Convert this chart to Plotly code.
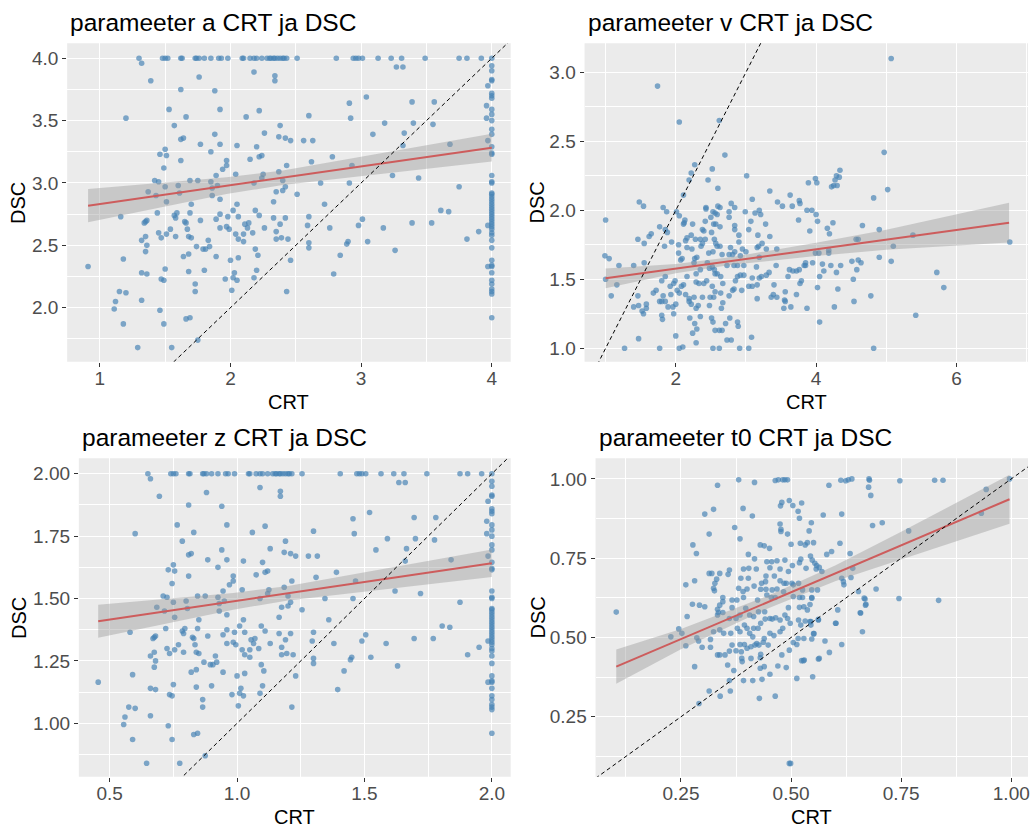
import numpy as np
import plotly.graph_objects as go

# ---------------- data: (CRT, DSC) pairs per parameter ----------------
a_points = [
    (1.30, 4.00), (1.48, 4.00), (1.50, 4.00), (1.52, 4.00), (1.62, 4.00), (1.63, 4.00), (1.73, 4.00), (1.74, 4.00),
    (1.76, 4.00), (1.80, 4.00), (1.85, 4.00), (1.91, 4.00), (1.93, 4.00), (1.98, 4.00), (2.09, 4.00), (2.10, 4.00),
    (2.15, 4.00), (2.18, 4.00), (2.20, 4.00), (2.24, 4.00), (2.28, 4.00), (2.30, 4.00), (2.31, 4.00), (2.33, 4.00),
    (2.34, 4.00), (2.36, 4.00), (2.38, 4.00), (2.40, 4.00), (2.41, 4.00), (2.43, 4.00), (2.51, 4.00), (2.81, 4.00),
    (2.94, 4.00), (2.96, 4.00), (2.98, 4.00), (3.01, 4.00), (3.13, 4.00), (3.23, 4.00), (3.31, 4.00), (3.49, 4.00),
    (3.75, 4.00), (3.81, 4.00), (3.92, 4.00), (4.00, 4.00),
    (1.32, 3.96), (1.39, 3.82), (1.76, 3.85), (2.18, 3.89), (2.34, 3.86), (2.34, 3.82), (3.27, 3.93), (3.32, 3.93),
    (1.88, 3.74), (1.62, 3.75), (3.04, 3.69), (2.91, 3.64), (3.39, 3.65), (3.56, 3.65), (1.53, 3.59), (1.92, 3.59),
    (2.22, 3.58), (1.20, 3.52), (1.66, 3.53), (2.12, 3.53), (2.60, 3.54), (2.92, 3.52), (3.18, 3.48), (3.40, 3.48),
    (3.55, 3.47), (1.57, 3.46), (2.38, 3.46), (2.26, 3.40), (3.33, 3.40), (1.88, 3.39), (3.09, 3.39), (1.62, 3.35),
    (1.64, 3.36), (2.37, 3.37), (2.42, 3.36), (2.46, 3.34), (2.56, 3.34), (2.63, 3.34), (1.77, 3.31), (1.92, 3.31),
    (2.05, 3.30), (2.20, 3.29), (3.32, 3.30), (3.68, 3.31), (1.50, 3.27), (1.85, 3.25), (1.46, 3.23), (1.51, 3.22),
    (2.22, 3.21), (2.24, 3.22), (2.78, 3.21), (2.15, 3.19), (1.62, 3.18), (1.97, 3.18), (2.62, 3.17), (1.97, 3.14),
    (2.43, 3.14), (2.93, 3.14), (1.49, 3.12), (1.94, 3.11), (2.37, 3.09), (2.04, 3.07), (1.89, 3.06), (2.25, 3.07),
    (3.24, 3.06), (3.44, 3.04), (2.24, 3.04), (1.69, 3.02), (1.75, 3.02), (1.42, 3.02), (1.45, 3.01), (1.85, 3.01),
    (2.40, 3.02), (2.18, 3.00), (2.69, 3.00), (2.91, 3.00), (1.50, 2.97), (1.60, 2.98), (1.86, 2.96), (1.90, 2.98),
    (2.42, 2.97), (3.75, 2.97), (1.37, 2.93), (2.35, 2.93), (2.40, 2.94), (1.61, 2.92), (1.43, 2.90), (1.86, 2.90),
    (2.51, 2.91), (1.92, 2.87), (1.51, 2.85), (2.33, 2.85), (1.70, 2.83), (2.05, 2.83), (2.72, 2.83), (2.02, 2.78),
    (2.19, 2.78), (3.61, 2.78), (3.67, 2.77), (1.44, 2.76), (1.59, 2.76), (1.57, 2.74), (1.69, 2.76), (1.92, 2.75),
    (2.22, 2.74), (1.16, 2.73), (1.58, 2.72), (2.06, 2.73), (2.33, 2.72), (2.42, 2.72), (2.60, 2.73), (1.98, 2.73),
    (3.01, 2.71), (1.35, 2.69), (1.36, 2.70), (1.65, 2.69), (1.77, 2.70), (1.89, 2.71), (1.34, 2.68), (1.66, 2.68),
    (2.11, 2.67), (2.14, 2.68), (2.38, 2.67), (3.39, 2.68), (3.54, 2.68), (2.98, 2.66), (2.59, 2.66), (1.97, 2.65),
    (1.92, 2.64), (1.99, 2.63), (2.13, 2.64), (2.26, 2.64), (2.76, 2.64), (3.17, 2.64), (1.54, 2.63), (1.67, 2.63),
    (2.35, 2.61), (2.17, 2.60), (3.90, 2.61), (1.45, 2.60), (2.04, 2.59), (2.10, 2.59), (1.35, 2.57), (1.51, 2.59),
    (1.58, 2.57), (1.68, 2.57), (1.47, 2.56), (1.70, 2.56), (2.06, 2.55), (2.35, 2.55), (2.39, 2.56), (2.44, 2.55),
    (3.81, 2.55), (1.32, 2.54), (1.83, 2.54), (2.10, 2.53), (2.60, 2.52), (3.05, 2.53), (2.90, 2.53), (2.89, 2.51),
    (1.36, 2.50), (1.74, 2.49), (1.84, 2.49), (2.60, 2.48), (1.79, 2.47), (1.81, 2.47), (2.19, 2.47), (3.26, 2.46),
    (1.35, 2.45), (1.68, 2.43), (2.21, 2.42), (1.64, 2.41), (1.89, 2.41), (2.84, 2.42), (2.06, 2.40), (1.18, 2.39),
    (2.00, 2.38), (2.46, 2.38), (0.91, 2.33), (1.50, 2.31), (1.80, 2.30), (2.20, 2.30), (1.68, 2.29), (1.32, 2.28),
    (2.03, 2.28), (1.36, 2.27), (2.79, 2.27), (2.02, 2.24), (2.18, 2.24), (1.47, 2.23), (1.49, 2.22), (1.96, 2.23),
    (2.05, 2.22), (1.73, 2.19), (1.15, 2.13), (1.20, 2.12), (1.73, 2.13), (2.01, 2.14), (2.43, 2.13), (1.12, 2.05),
    (1.32, 2.06), (1.11, 1.99), (1.46, 1.98), (1.66, 1.91), (1.69, 1.92), (1.18, 1.87), (1.49, 1.87), (1.75, 1.74),
    (1.29, 1.68), (1.55, 1.68),
    (3.97, 3.78), (3.96, 3.62), (3.96, 3.52), (3.97, 3.34), (3.97, 2.66), (3.97, 2.33),
    (4.00, 3.94), (4.00, 3.90), (4.00, 3.83), (4.00, 3.82), (4.00, 3.72), (4.00, 3.70), (4.00, 3.68), (4.00, 3.59),
    (4.00, 3.55), (4.00, 3.50), (4.00, 3.43), (4.00, 3.39), (4.00, 3.29), (4.00, 3.24), (4.00, 3.23), (4.00, 3.06),
    (4.00, 3.01), (4.00, 3.00), (4.00, 2.92), (4.00, 2.91), (4.00, 2.89), (4.00, 2.87), (4.00, 2.85), (4.00, 2.83),
    (4.00, 2.81), (4.00, 2.79), (4.00, 2.77), (4.00, 2.75), (4.00, 2.73), (4.00, 2.71), (4.00, 2.69), (4.00, 2.67),
    (4.00, 2.65), (4.00, 2.63), (4.00, 2.60), (4.00, 2.58), (4.00, 2.54), (4.00, 2.48), (4.00, 2.38), (4.00, 2.34),
    (4.00, 2.33), (4.00, 2.28), (4.00, 2.22), (4.00, 2.19), (4.00, 2.15), (4.00, 2.13), (4.00, 2.11), (4.00, 1.92),
]

v_points = [
    (1.74, 2.90), (2.05, 2.64), (2.62, 2.65), (2.70, 2.40), (5.07, 3.10), (4.97, 2.42), (2.27, 2.33), (2.52, 2.30),
    (2.46, 2.22), (2.22, 2.27), (2.19, 2.22), (3.01, 2.25), (2.11, 2.11), (2.60, 2.16), (3.34, 2.14), (3.63, 2.11),
    (3.09, 2.08), (3.89, 2.20), (3.99, 2.23), (4.01, 2.20), (4.25, 2.18), (4.27, 2.22), (4.29, 2.25), (4.34, 2.29),
    (4.33, 2.24), (4.30, 2.18), (4.22, 2.17), (4.82, 2.09), (5.02, 2.15),
    (1.48, 2.06), (1.54, 2.03), (1.82, 2.02), (1.87, 1.99), (2.01, 1.99), (2.05, 1.96), (1.85, 1.86), (1.77, 1.88),
    (1.65, 1.83), (1.62, 1.81), (1.46, 1.79), (1.55, 1.76), (1.84, 1.74), (1.88, 1.84), (1.00, 1.93), (0.99, 1.67),
    (1.05, 1.65), (1.19, 1.60), (1.00, 1.50), (1.16, 1.46), (1.08, 1.38), (1.40, 1.60), (1.55, 1.62), (1.46, 1.38),
    (1.40, 1.30), (1.47, 1.31), (1.52, 1.27), (1.54, 1.25), (1.58, 1.32), (1.58, 1.29), (1.47, 1.07), (1.27, 1.00),
    (1.77, 1.00),
    (1.68, 1.40), (1.72, 1.42), (1.77, 1.34), (1.80, 1.34), (1.80, 1.24), (1.81, 1.21), (1.85, 1.34), (1.82, 1.38),
    (1.89, 1.30), (1.96, 1.30), (1.97, 1.25), (2.00, 1.32), (2.00, 1.09), (2.05, 1.00), (2.10, 1.01), (1.80, 1.49),
    (1.85, 1.52), (1.92, 1.45), (1.93, 1.39), (1.97, 1.47), (1.99, 1.49), (2.02, 1.42), (2.05, 1.40), (2.08, 1.45),
    (2.11, 1.46), (2.16, 1.52), (2.14, 1.39), (2.19, 1.36), (2.19, 1.34), (2.22, 1.32), (2.26, 1.37), (2.20, 1.22),
    (2.24, 1.11), (2.27, 1.18), (2.30, 1.14), (2.29, 1.04), (2.35, 1.23), (2.29, 1.29), (2.32, 1.31), (2.38, 1.37),
    (2.29, 1.48), (2.33, 1.47), (2.40, 1.47), (2.44, 1.49), (2.29, 1.54), (2.35, 1.57), (2.26, 1.62), (2.27, 1.65),
    (2.30, 1.66), (2.07, 1.64), (2.09, 1.65), (2.04, 1.69), (1.94, 1.77), (2.04, 1.75), (2.14, 1.78), (2.16, 1.80),
    (2.22, 1.82), (2.24, 1.90), (2.12, 1.91), (2.13, 1.93), (2.11, 1.90), (2.16, 1.73), (2.23, 1.72), (2.28, 1.79),
    (2.35, 1.79), (2.38, 1.76), (2.42, 1.79), (2.36, 1.74), (2.38, 1.86), (2.40, 1.85), (2.42, 1.92), (2.43, 2.01),
    (2.43, 2.02), (2.50, 1.95), (2.53, 1.99), (2.56, 1.98), (2.60, 2.03), (2.63, 2.02), (2.59, 1.97), (2.54, 1.90),
    (2.57, 1.90), (2.63, 1.88), (2.51, 1.84), (2.55, 1.79), (2.57, 1.76), (2.59, 1.74), (2.63, 1.74), (2.53, 1.70),
    (2.47, 1.69), (2.45, 1.62), (2.48, 1.58), (2.52, 1.59), (2.55, 1.57), (2.56, 1.54), (2.59, 1.54), (2.64, 1.52),
    (2.66, 1.68), (2.67, 1.47), (2.52, 1.45), (2.56, 1.41), (2.49, 1.37), (2.54, 1.37), (2.64, 1.40), (2.67, 1.33),
    (2.65, 1.29), (2.48, 1.31), (2.51, 1.22), (2.53, 1.19), (2.56, 1.13), (2.62, 1.13), (2.66, 1.13), (2.71, 1.18),
    (2.73, 1.06), (2.79, 1.06), (2.53, 1.00), (2.62, 1.00), (2.91, 1.00), (3.04, 1.00), (3.08, 1.08), (2.77, 1.22),
    (2.88, 1.19), (2.89, 1.16), (2.76, 1.38), (2.81, 1.42), (2.83, 1.43), (2.85, 1.49), (2.94, 1.42), (2.92, 1.53),
    (2.97, 1.53), (2.88, 1.52), (2.73, 1.60), (2.83, 1.60), (2.88, 1.60), (2.97, 1.60), (2.76, 1.68), (2.81, 1.68),
    (2.78, 1.73), (2.84, 1.70), (2.90, 1.77), (2.92, 1.67), (3.00, 1.70), (2.95, 1.72), (2.84, 1.86), (2.84, 1.89),
    (2.90, 1.82), (2.76, 1.95), (2.76, 1.99), (2.79, 2.05), (2.84, 2.02), (2.99, 1.99), (3.04, 1.86), (3.07, 1.92),
    (3.13, 1.98), (3.19, 2.00), (3.21, 1.97), (3.17, 1.82), (3.23, 1.76), (3.18, 1.74), (3.16, 1.73), (3.28, 1.90),
    (3.34, 1.81), (3.29, 1.72), (3.44, 1.72), (3.19, 1.66), (3.15, 1.59), (3.22, 1.52), (3.19, 1.51), (3.29, 1.53),
    (3.09, 1.51), (3.04, 1.45), (3.09, 1.45), (3.16, 1.46), (3.33, 1.55), (3.16, 1.36), (3.40, 1.46), (3.36, 1.37),
    (3.39, 1.39), (3.44, 1.37), (3.43, 1.60), (3.55, 1.35), (3.56, 1.34), (3.54, 1.29), (3.56, 1.41), (3.64, 1.30),
    (3.72, 1.39), (3.87, 1.29), (3.77, 1.47), (3.79, 1.49), (3.62, 1.57), (3.67, 1.56), (3.72, 1.56), (3.76, 1.57),
    (3.83, 1.60), (3.85, 1.62), (3.85, 1.60), (3.95, 1.62), (3.99, 1.69), (4.04, 1.69), (4.18, 1.69), (4.18, 1.71),
    (4.09, 1.61), (4.11, 1.56), (4.21, 1.60), (4.35, 1.60), (4.29, 1.55), (4.05, 1.52), (4.02, 1.44), (4.31, 1.43),
    (4.26, 1.30), (4.05, 1.19), (4.53, 1.50), (4.54, 1.34), (4.51, 1.63), (4.58, 1.57), (4.60, 1.64), (4.64, 1.62),
    (4.57, 1.79), (4.60, 1.79), (4.66, 1.89), (4.78, 1.38), (4.82, 1.00), (4.90, 1.66), (4.90, 1.86), (5.07, 1.63),
    (5.10, 1.74), (5.38, 1.82), (5.42, 1.24), (5.72, 1.55), (5.82, 1.44), (6.76, 1.77), (4.00, 1.97), (3.94, 2.00),
    (3.87, 2.00), (4.02, 1.92), (3.91, 1.85), (4.16, 1.87), (4.19, 1.83), (4.24, 1.91), (3.76, 2.07), (3.77, 2.05),
    (3.66, 2.03), (3.52, 2.03), (3.45, 2.06), (3.75, 1.93), (3.60, 1.52),
]

z_points = [
    (0.650, 2.00), (0.740, 2.00), (0.750, 2.00), (0.760, 2.00), (0.810, 2.00), (0.815, 2.00), (0.865, 2.00), (0.870, 2.00),
    (0.880, 2.00), (0.900, 2.00), (0.925, 2.00), (0.955, 2.00), (0.965, 2.00), (0.990, 2.00), (1.045, 2.00), (1.050, 2.00),
    (1.075, 2.00), (1.090, 2.00), (1.100, 2.00), (1.120, 2.00), (1.140, 2.00), (1.150, 2.00), (1.155, 2.00), (1.165, 2.00),
    (1.170, 2.00), (1.180, 2.00), (1.190, 2.00), (1.200, 2.00), (1.205, 2.00), (1.215, 2.00), (1.255, 2.00), (1.405, 2.00),
    (1.470, 2.00), (1.480, 2.00), (1.490, 2.00), (1.505, 2.00), (1.565, 2.00), (1.615, 2.00), (1.655, 2.00), (1.745, 2.00),
    (1.875, 2.00), (1.905, 2.00), (1.960, 2.00), (2.000, 2.00),
    (0.660, 1.980), (0.695, 1.910), (0.880, 1.925), (1.090, 1.945), (1.170, 1.930), (1.170, 1.910), (1.635, 1.965),
    (1.660, 1.965), (0.940, 1.870), (0.810, 1.875), (1.520, 1.845), (1.455, 1.820), (1.695, 1.825), (1.780, 1.825),
    (0.765, 1.795), (0.960, 1.795), (1.110, 1.790), (0.600, 1.760), (0.830, 1.765), (1.060, 1.765), (1.300, 1.770),
    (1.460, 1.760), (1.590, 1.740), (1.700, 1.740), (1.775, 1.735), (0.785, 1.730), (1.190, 1.730), (1.130, 1.700),
    (1.665, 1.700), (0.940, 1.695), (1.545, 1.695), (0.810, 1.675), (0.820, 1.680), (1.185, 1.685), (1.210, 1.680),
    (1.230, 1.670), (1.280, 1.670), (1.315, 1.670), (0.885, 1.655), (0.960, 1.655), (1.025, 1.650), (1.100, 1.645),
    (1.660, 1.650), (1.840, 1.655), (0.750, 1.635), (0.925, 1.625), (0.730, 1.615), (0.755, 1.610), (1.110, 1.605),
    (1.120, 1.610), (1.390, 1.605), (1.075, 1.595), (0.810, 1.590), (0.985, 1.590), (1.310, 1.585), (0.985, 1.570),
    (1.215, 1.570), (1.465, 1.570), (0.745, 1.560), (0.970, 1.555), (1.185, 1.545), (1.020, 1.535), (0.945, 1.530),
    (1.125, 1.535), (1.620, 1.530), (1.720, 1.520), (1.120, 1.520), (0.845, 1.510), (0.875, 1.510), (0.710, 1.510),
    (0.725, 1.505), (0.925, 1.505), (1.200, 1.510), (1.090, 1.500), (1.345, 1.500), (1.455, 1.500), (0.750, 1.485),
    (0.800, 1.490), (0.930, 1.480), (0.950, 1.490), (1.210, 1.485), (1.875, 1.485), (0.685, 1.465), (1.175, 1.465),
    (1.200, 1.470), (0.805, 1.460), (0.715, 1.450), (0.930, 1.450), (1.255, 1.455), (0.960, 1.435), (0.755, 1.425),
    (1.165, 1.425), (0.850, 1.415), (1.025, 1.415), (1.360, 1.415), (1.010, 1.390), (1.095, 1.390), (1.805, 1.390),
    (1.835, 1.385), (0.720, 1.380), (0.795, 1.380), (0.785, 1.370), (0.845, 1.380), (0.960, 1.375), (1.110, 1.370),
    (0.580, 1.365), (0.790, 1.360), (1.030, 1.365), (1.165, 1.360), (1.210, 1.360), (1.300, 1.365), (0.990, 1.365),
    (1.505, 1.355), (0.675, 1.345), (0.680, 1.350), (0.825, 1.345), (0.885, 1.350), (0.945, 1.355), (0.670, 1.340),
    (0.830, 1.340), (1.055, 1.335), (1.070, 1.340), (1.190, 1.335), (1.695, 1.340), (1.770, 1.340), (1.490, 1.330),
    (1.295, 1.330), (0.985, 1.325), (0.960, 1.320), (0.995, 1.315), (1.065, 1.320), (1.130, 1.320), (1.380, 1.320),
    (1.585, 1.320), (0.770, 1.315), (0.835, 1.315), (1.175, 1.305), (1.085, 1.300), (1.950, 1.305), (0.725, 1.300),
    (1.020, 1.295), (1.050, 1.295), (0.675, 1.285), (0.755, 1.295), (0.790, 1.285), (0.840, 1.285), (0.735, 1.280),
    (0.850, 1.280), (1.030, 1.275), (1.175, 1.275), (1.195, 1.280), (1.220, 1.275), (1.905, 1.275), (0.660, 1.270),
    (0.915, 1.270), (1.050, 1.265), (1.300, 1.260), (1.525, 1.265), (1.450, 1.265), (1.445, 1.255), (0.680, 1.250),
    (0.870, 1.245), (0.920, 1.245), (1.300, 1.240), (0.895, 1.235), (0.905, 1.235), (1.095, 1.235), (1.630, 1.230),
    (0.675, 1.225), (0.840, 1.215), (1.105, 1.210), (0.820, 1.205), (0.945, 1.205), (1.420, 1.210), (1.030, 1.200),
    (0.590, 1.195), (1.000, 1.190), (1.230, 1.190), (0.455, 1.165), (0.750, 1.155), (0.900, 1.150), (1.100, 1.150),
    (0.840, 1.145), (0.660, 1.140), (1.015, 1.140), (0.680, 1.135), (1.395, 1.135), (1.010, 1.120), (1.090, 1.120),
    (0.735, 1.115), (0.745, 1.110), (0.980, 1.115), (1.025, 1.110), (0.865, 1.095), (0.575, 1.065), (0.600, 1.060),
    (0.865, 1.065), (1.005, 1.070), (1.215, 1.065), (0.560, 1.025), (0.660, 1.030), (0.555, 0.995), (0.730, 0.990),
    (0.830, 0.955), (0.845, 0.960), (0.590, 0.935), (0.745, 0.935), (0.875, 0.870), (0.645, 0.840), (0.775, 0.840),
    (1.985, 1.890), (1.980, 1.810), (1.980, 1.760), (1.985, 1.670), (1.985, 1.330), (1.985, 1.165),
    (2.00, 1.970), (2.00, 1.950), (2.00, 1.915), (2.00, 1.910), (2.00, 1.860), (2.00, 1.850), (2.00, 1.840), (2.00, 1.795),
    (2.00, 1.775), (2.00, 1.750), (2.00, 1.715), (2.00, 1.695), (2.00, 1.645), (2.00, 1.620), (2.00, 1.615), (2.00, 1.530),
    (2.00, 1.505), (2.00, 1.500), (2.00, 1.460), (2.00, 1.455), (2.00, 1.445), (2.00, 1.435), (2.00, 1.425), (2.00, 1.415),
    (2.00, 1.405), (2.00, 1.395), (2.00, 1.385), (2.00, 1.375), (2.00, 1.365), (2.00, 1.355), (2.00, 1.345), (2.00, 1.335),
    (2.00, 1.325), (2.00, 1.315), (2.00, 1.300), (2.00, 1.290), (2.00, 1.270), (2.00, 1.240), (2.00, 1.190), (2.00, 1.170),
    (2.00, 1.165), (2.00, 1.140), (2.00, 1.110), (2.00, 1.095), (2.00, 1.075), (2.00, 1.065), (2.00, 1.055), (2.00, 0.960),
]

t0_points = [
    (0.381, 0.997), (0.417, 0.989), (0.464, 0.995), (0.471, 0.997), (0.481, 0.997), (0.486, 0.997), (0.492, 0.997),
    (0.613, 0.996), (0.624, 0.994), (0.630, 0.997), (0.638, 1.000), (0.677, 1.000), (0.678, 0.996), (0.747, 0.994),
    (0.826, 0.996), (0.845, 0.996), (0.996, 1.000), (0.333, 0.980), (0.586, 0.980), (0.676, 0.974), (0.681, 0.948),
    (0.943, 0.967), (0.496, 0.932), (0.479, 0.926), (0.524, 0.924), (0.504, 0.916), (0.476, 0.915), (0.516, 0.898),
    (0.391, 0.907), (0.324, 0.904), (0.304, 0.889), (0.412, 0.883), (0.573, 0.886), (0.615, 0.889), (0.519, 0.876),
    (0.932, 0.892), (0.546, 0.862), (0.475, 0.858), (0.477, 0.841), (0.477, 0.834), (0.372, 0.847), (0.541, 0.836),
    (0.685, 0.853), (0.707, 0.862), (0.767, 0.836), (0.314, 0.826), (0.492, 0.826), (0.384, 0.811), (0.500, 0.794),
    (0.521, 0.797), (0.532, 0.792), (0.537, 0.799), (0.551, 0.799), (0.277, 0.792), (0.285, 0.765), (0.430, 0.792),
    (0.439, 0.789), (0.451, 0.781), (0.611, 0.797), (0.581, 0.762), (0.592, 0.771), (0.634, 0.765), (0.403, 0.762),
    (0.417, 0.748), (0.445, 0.739), (0.456, 0.739), (0.468, 0.742), (0.486, 0.744), (0.522, 0.747), (0.519, 0.736),
    (0.544, 0.757), (0.548, 0.744), (0.554, 0.734), (0.558, 0.727), (0.564, 0.721), (0.534, 0.718), (0.503, 0.727),
    (0.494, 0.708), (0.392, 0.716), (0.404, 0.718), (0.421, 0.716), (0.452, 0.720), (0.475, 0.716), (0.557, 0.716),
    (0.570, 0.708), (0.640, 0.718), (0.360, 0.713), (0.314, 0.702), (0.320, 0.702), (0.338, 0.702), (0.357, 0.699),
    (0.331, 0.684), (0.327, 0.671), (0.324, 0.655), (0.326, 0.647), (0.281, 0.679), (0.261, 0.666), (0.386, 0.687),
    (0.403, 0.687), (0.443, 0.694), (0.462, 0.694), (0.475, 0.679), (0.442, 0.676), (0.433, 0.671), (0.416, 0.662),
    (0.400, 0.653), (0.381, 0.655), (0.391, 0.645), (0.431, 0.652), (0.443, 0.652), (0.457, 0.650), (0.468, 0.653),
    (0.484, 0.671), (0.489, 0.671), (0.502, 0.671), (0.505, 0.666), (0.517, 0.671), (0.526, 0.650), (0.547, 0.650),
    (0.560, 0.650), (0.615, 0.687), (0.619, 0.676), (0.620, 0.666), (0.636, 0.689), (0.653, 0.645), (0.693, 0.653),
    (0.345, 0.626), (0.345, 0.613), (0.366, 0.618), (0.377, 0.618), (0.392, 0.626), (0.424, 0.618), (0.445, 0.634),
    (0.455, 0.626), (0.464, 0.626), (0.483, 0.644), (0.505, 0.629), (0.519, 0.626), (0.526, 0.626), (0.547, 0.626),
    (0.494, 0.594), (0.519, 0.595), (0.529, 0.597), (0.543, 0.604), (0.537, 0.587), (0.276, 0.605), (0.292, 0.602),
    (0.304, 0.597), (0.264, 0.566), (0.338, 0.602), (0.333, 0.589), (0.335, 0.579), (0.345, 0.579), (0.333, 0.571),
    (0.366, 0.594), (0.360, 0.560), (0.375, 0.560), (0.384, 0.571), (0.397, 0.592), (0.406, 0.571), (0.415, 0.566),
    (0.426, 0.581), (0.440, 0.581), (0.452, 0.560), (0.441, 0.558), (0.457, 0.558), (0.465, 0.562), (0.475, 0.555),
    (0.486, 0.571), (0.492, 0.560), (0.498, 0.545), (0.517, 0.555), (0.522, 0.539), (0.532, 0.552), (0.543, 0.550),
    (0.562, 0.557), (0.602, 0.545), (0.657, 0.578), (0.670, 0.605), (0.668, 0.621), (0.606, 0.587), (0.745, 0.623),
    (0.835, 0.617), (0.662, 0.518), (0.615, 0.478), (0.587, 0.453), (0.577, 0.489), (0.562, 0.432), (0.549, 0.376),
    (0.524, 0.427), (0.528, 0.427), (0.513, 0.478), (0.505, 0.484), (0.516, 0.497), (0.529, 0.497), (0.547, 0.495),
    (0.551, 0.512), (0.545, 0.539), (0.496, 0.460), (0.489, 0.405), (0.470, 0.410), (0.479, 0.445), (0.452, 0.384),
    (0.434, 0.368), (0.430, 0.403), (0.439, 0.408), (0.413, 0.364), (0.430, 0.436), (0.431, 0.447), (0.409, 0.434),
    (0.388, 0.434), (0.389, 0.424), (0.387, 0.455), (0.375, 0.458), (0.392, 0.364), (0.370, 0.396), (0.360, 0.364),
    (0.356, 0.413), (0.362, 0.331), (0.339, 0.315), (0.314, 0.331), (0.291, 0.292), (0.428, 0.308), (0.464, 0.315),
    (0.496, 0.103), (0.499, 0.103), (0.513, 0.371), (0.530, 0.429), (0.350, 0.445), (0.338, 0.445), (0.317, 0.469),
    (0.298, 0.469), (0.281, 0.408), (0.261, 0.474), (0.227, 0.502), (0.245, 0.527), (0.252, 0.513), (0.286, 0.499),
    (0.290, 0.489), (0.317, 0.494), (0.324, 0.518), (0.338, 0.524), (0.347, 0.513), (0.363, 0.513), (0.384, 0.518),
    (0.378, 0.529), (0.394, 0.539), (0.400, 0.529), (0.406, 0.513), (0.413, 0.502), (0.422, 0.481), (0.418, 0.476),
    (0.427, 0.476), (0.437, 0.485), (0.448, 0.476), (0.439, 0.497), (0.452, 0.513), (0.461, 0.506), (0.475, 0.518),
    (0.481, 0.529), (0.415, 0.529), (0.425, 0.529), (0.431, 0.545), (0.394, 0.478), (0.400, 0.466), (0.409, 0.471),
    (0.384, 0.478), (0.360, 0.457), (0.333, 0.445), (0.366, 0.476), (0.103, 0.580), (0.666, 0.624), (0.669, 0.602),
    (0.658, 0.577), (0.601, 0.545), (0.564, 0.434), (0.552, 0.512), (0.562, 0.555), (0.545, 0.550), (0.547, 0.624),
]

# ---------------- linear smooth (fit line and 95% band) per parameter ----------------
a_fit_crt = [0.91, 1.45, 1.97, 2.40, 2.96, 3.50, 4.00]
a_fit_dsc = [2.818, 2.899, 2.978, 3.042, 3.127, 3.208, 3.283]
a_fit_lo = [2.685, 2.799, 2.911, 2.984, 3.049, 3.114, 3.172]
a_fit_hi = [2.951, 2.999, 3.045, 3.100, 3.205, 3.302, 3.394]

v_fit_crt = [1.00, 2.00, 2.80, 4.00, 5.00, 6.75]
v_fit_dsc = [1.507, 1.577, 1.633, 1.717, 1.787, 1.910]
v_fit_lo = [1.436, 1.543, 1.605, 1.669, 1.715, 1.766]
v_fit_hi = [1.578, 1.611, 1.661, 1.765, 1.859, 2.054]

z_fit_crt = [0.455, 0.725, 0.985, 1.200, 1.480, 1.750, 2.000]
z_fit_dsc = [1.409, 1.4495, 1.489, 1.521, 1.5635, 1.604, 1.6415]
z_fit_lo = [1.3425, 1.3995, 1.4555, 1.492, 1.5245, 1.557, 1.586]
z_fit_hi = [1.4755, 1.4995, 1.5225, 1.550, 1.6025, 1.651, 1.697]

t0_fit_crt = [0.103, 0.250, 0.450, 0.600, 0.750, 0.996]
t0_fit_dsc = [0.408, 0.495, 0.613, 0.702, 0.790, 0.936]
t0_fit_lo = [0.354, 0.463, 0.593, 0.677, 0.747, 0.859]
t0_fit_hi = [0.462, 0.527, 0.633, 0.727, 0.833, 1.013]

titles = ["parameeter a CRT ja DSC", "parameeter v CRT ja DSC",
          "parameeter z CRT ja DSC", "parameeter t0 CRT ja DSC"]

# ---------------- layout of the 2x2 grid (pixels in a 1035x828 page) ----------------
W, H = 1035, 828
panels = [
    dict(pts=a_points, fit=(a_fit_crt, a_fit_dsc, a_fit_lo, a_fit_hi),
         px=(67.3, 511.7), py=(43.3, 361.7), xr=[0.750, 4.145], yr=[1.567, 4.120],
         xd=1, xm=0.5, xf=".0f", yd=0.5, ym=0.25, yf=".1f", tx=68, tb=32, ylab_x=18.5),
    dict(pts=v_points, fit=(v_fit_crt, v_fit_dsc, v_fit_lo, v_fit_hi),
         px=(585.7, 1030.0), py=(43.3, 361.7), xr=[0.700, 7.020], yr=[0.903, 3.210],
         xd=2, xm=1, xf=".0f", yd=0.5, ym=0.25, yf=".1f", tx=586.7, tb=32, ylab_x=539),
    dict(pts=z_points, fit=(z_fit_crt, z_fit_dsc, z_fit_lo, z_fit_hi),
         px=(79.0, 511.7), py=(458.3, 776.7), xr=[0.379, 2.074], yr=[0.786, 2.062],
         xd=0.5, xm=0.25, xf=".1f", yd=0.25, ym=0.125, yf=".2f", tx=80, tb=447, ylab_x=18.5),
    dict(pts=t0_points, fit=(t0_fit_crt, t0_fit_dsc, t0_fit_lo, t0_fit_hi),
         px=(596.7, 1030.0), py=(458.3, 776.7), xr=[0.056, 1.038], yr=[0.061, 1.065],
         xd=0.25, xm=0.125, xf=".2f", yd=0.25, ym=0.125, yf=".2f", tx=598.3, tb=447, ylab_x=539),
]

FONT = "Liberation Sans, Arial, sans-serif"
POINT_COLOR = "rgba(70,130,180,0.68)"
FIT_COLOR = "#CD5C5C"
BAND_COLOR = "rgba(153,153,153,0.42)"

fig = go.Figure()
layout = {}
annotations = []

for i, p in enumerate(panels, start=1):
    sx = "" if i == 1 else str(i)
    xref, yref = "x" + sx, "y" + sx
    crt = [c for c, _ in p["pts"]]
    dsc = [d for _, d in p["pts"]]
    f_crt, f_dsc, f_lo, f_hi = p["fit"]

    # scatter
    fig.add_trace(go.Scatter(x=crt, y=dsc, mode="markers", xaxis=xref, yaxis=yref,
                             marker=dict(size=5.6, color=POINT_COLOR, line=dict(width=0)),
                             showlegend=False, hoverinfo="skip"))
    # confidence band and fitted line
    fig.add_trace(go.Scatter(x=f_crt + f_crt[::-1], y=f_hi + f_lo[::-1],
                             mode="lines", fill="toself", fillcolor=BAND_COLOR, line=dict(width=0),
                             xaxis=xref, yaxis=yref, showlegend=False, hoverinfo="skip"))
    fig.add_trace(go.Scatter(x=f_crt, y=f_dsc, mode="lines", line=dict(color=FIT_COLOR, width=2),
                             xaxis=xref, yaxis=yref, showlegend=False, hoverinfo="skip"))
    # identity reference line
    lo_id = min(p["xr"][0], p["yr"][0])
    hi_id = max(p["xr"][1], p["yr"][1])
    fig.add_trace(go.Scatter(x=[lo_id, hi_id], y=[lo_id, hi_id], mode="lines",
                             line=dict(color="black", width=1, dash="4px,3px"),
                             xaxis=xref, yaxis=yref, showlegend=False, hoverinfo="skip"))

    xdom = [p["px"][0] / W, p["px"][1] / W]
    ydom = [1 - p["py"][1] / H, 1 - p["py"][0] / H]
    common = dict(showline=False, zeroline=False, gridcolor="white", gridwidth=1.3,
                  ticks="outside", ticklen=4, tickwidth=1, tickcolor="#333333",
                  tickfont=dict(family=FONT, size=19, color="#4D4D4D"), fixedrange=True)
    layout["xaxis" + sx] = dict(domain=xdom, anchor=yref, range=p["xr"], tick0=0, dtick=p["xd"],
                                tickformat=p["xf"], ticklabelstandoff=-5,
                                minor=dict(dtick=p["xm"], tick0=0, showgrid=True, gridcolor="white",
                                           gridwidth=0.7, ticks=""),
                                **common)
    layout["yaxis" + sx] = dict(domain=ydom, anchor=xref, range=p["yr"], tick0=0, dtick=p["yd"],
                                tickformat=p["yf"],
                                minor=dict(dtick=p["ym"], tick0=0, showgrid=True, gridcolor="white",
                                           gridwidth=0.7, ticks=""),
                                **common)

    # panel background
    layout.setdefault("shapes", []).append(dict(type="rect", xref="paper", yref="paper", layer="below",
                                                x0=xdom[0], x1=xdom[1], y0=ydom[0], y1=ydom[1],
                                                fillcolor="#EBEBEB", line=dict(width=0)))
    # panel title
    annotations.append(dict(text=titles[i - 1], xref="paper", yref="paper", x=p["tx"] / W,
                            y=1 - (p["tb"] + 6) / H, xanchor="left", yanchor="bottom", showarrow=False,
                            font=dict(family=FONT, size=24.5, color="black")))
    # axis titles
    annotations.append(dict(text="CRT", xref="paper", yref="paper", x=(xdom[0] + xdom[1]) / 2,
                            y=1 - (p["py"][1] + 40) / H, xanchor="center", yanchor="middle",
                            showarrow=False, font=dict(family=FONT, size=20, color="black")))
    annotations.append(dict(text="DSC", xref="paper", yref="paper", x=p["ylab_x"] / W,
                            y=(ydom[0] + ydom[1]) / 2, xanchor="center", yanchor="middle", textangle=-90,
                            showarrow=False, font=dict(family=FONT, size=20, color="black")))

fig.update_layout(width=W, height=H, margin=dict(l=0, r=0, t=0, b=0), autosize=False,
                  paper_bgcolor="white", plot_bgcolor="rgba(0,0,0,0)",
                  annotations=annotations, **layout)

fig.write_html("out.html", config=dict(displayModeBar=False))
